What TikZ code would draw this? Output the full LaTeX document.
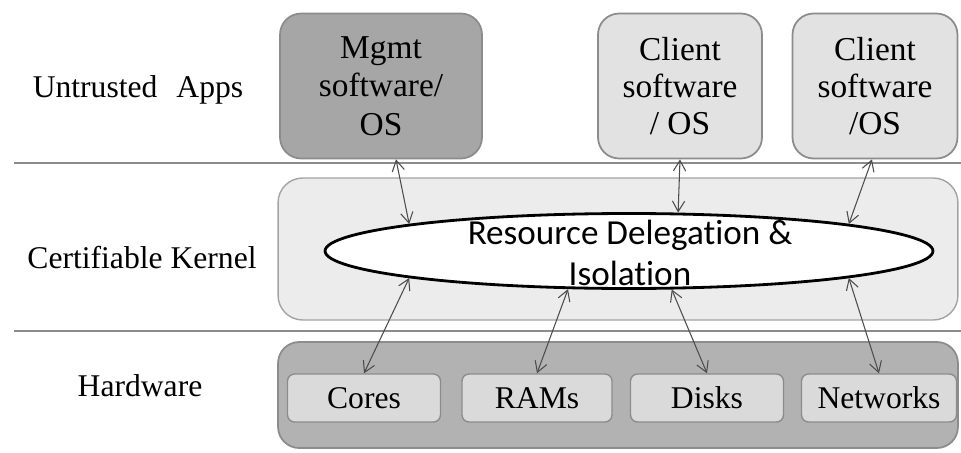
\documentclass[tikz,border=0pt]{standalone}
\usepackage{fontspec}
\setmainfont{Liberation Serif}
\newfontfamily\calfont{Carlito}[Ligatures=NoCommon]
\usepackage{tikz}
\usetikzlibrary{shapes.geometric,arrows.meta}

\definecolor{mgmtgray}{HTML}{A6A6A6}
\definecolor{appgray}{HTML}{E2E2E2}
\definecolor{kerngray}{HTML}{ECECEC}
\definecolor{hwgray}{HTML}{B2B2B2}
\definecolor{partgray}{HTML}{DADADA}
\definecolor{edgegray}{HTML}{8C8C8C}

\tikzset{
  layer/.style={font=\fontsize{18}{21}\selectfont},
  appbox/.style={draw=edgegray, line width=1pt, rounded corners=12pt, fill=appgray,
    align=center, inner sep=0pt, minimum height=2.9cm,
    font=\fontsize{19}{21}\selectfont},
  part/.style={draw=edgegray, line width=0.8pt, rounded corners=4pt, fill=partgray,
    inner sep=0pt, minimum height=0.96cm, font=\fontsize{18}{21}\selectfont},
  link/.style={{Straight Barb[length=6pt,width=7pt]}-{Straight Barb[length=6pt,width=7pt]},
    line width=0.6pt, draw=black!70},
}

\begin{document}
\begin{tikzpicture}[x=0.02cm,y=-0.02cm]
\useasboundingbox (0,0) rectangle (961,453);
% layer names and dividers
\node[layer] (untrusted) at (138,90) {Untrusted\hspace{0.35em} Apps};
\node[layer] (kernel) at (142,258) {Certifiable Kernel};
\node[layer] (hardware) at (140,386) {Hardware};
\draw[edgegray, line width=1.2pt] (14,163) -- (961,163);
\draw[edgegray, line width=1.2pt] (14,331) -- (961,331);
% untrusted apps
\node[appbox, fill=mgmtgray, minimum width=4.04cm, font=\fontsize{19}{22}\selectfont]
  (mgmt) at (381,86) {Mgmt\\software/\\OS};
\node[appbox, minimum width=3.28cm] (client1) at (680,86) {Client\\software\\/ OS};
\node[appbox, minimum width=3.3cm] (client2) at (875,86) {Client\\software\\/OS};
% kernel
\node[draw=edgegray!80, line width=0.8pt, rounded corners=14pt, fill=kerngray,
  minimum width=13.6cm, minimum height=2.84cm] (kbox) at (618,249) {};
\node[ellipse, draw, line width=1.6pt, fill=white, inner sep=0pt,
  minimum width=12.16cm, minimum height=1.5cm] (deleg) at (629,251) {};
\node[font=\calfont\fontsize{20}{23.5}\selectfont, align=center] (delegtext) at (630,253)
  {Resource Delegation \&\\Isolation};
% hardware
\node[draw=edgegray, line width=1pt, rounded corners=12pt, fill=hwgray,
  minimum width=13.6cm, minimum height=2.12cm] (hwbox) at (618,395) {};
\foreach \name/\x/\w/\txt in {cores/364/3.06/Cores, rams/537/3.0/RAMs,
    disks/707/3.06/Disks, nets/879/3.1/Networks}{
  \node[part, minimum width=\w cm] (\name) at (\x,398) {\txt};}
% connectors
\draw[link] ([xshift=0.3cm]mgmt.south) -- (deleg.173);
\draw[link] (client1.south) -- (deleg.38);
\draw[link] ([xshift=-0.06cm]client2.south) -- (deleg.7);
\draw[link] (cores.north) -- (deleg.187);
\draw[link] (rams.north) -- (deleg.212);
\draw[link] (disks.north) -- (deleg.318);
\draw[link] (nets.north) -- (deleg.353);
\end{tikzpicture}
\end{document}
